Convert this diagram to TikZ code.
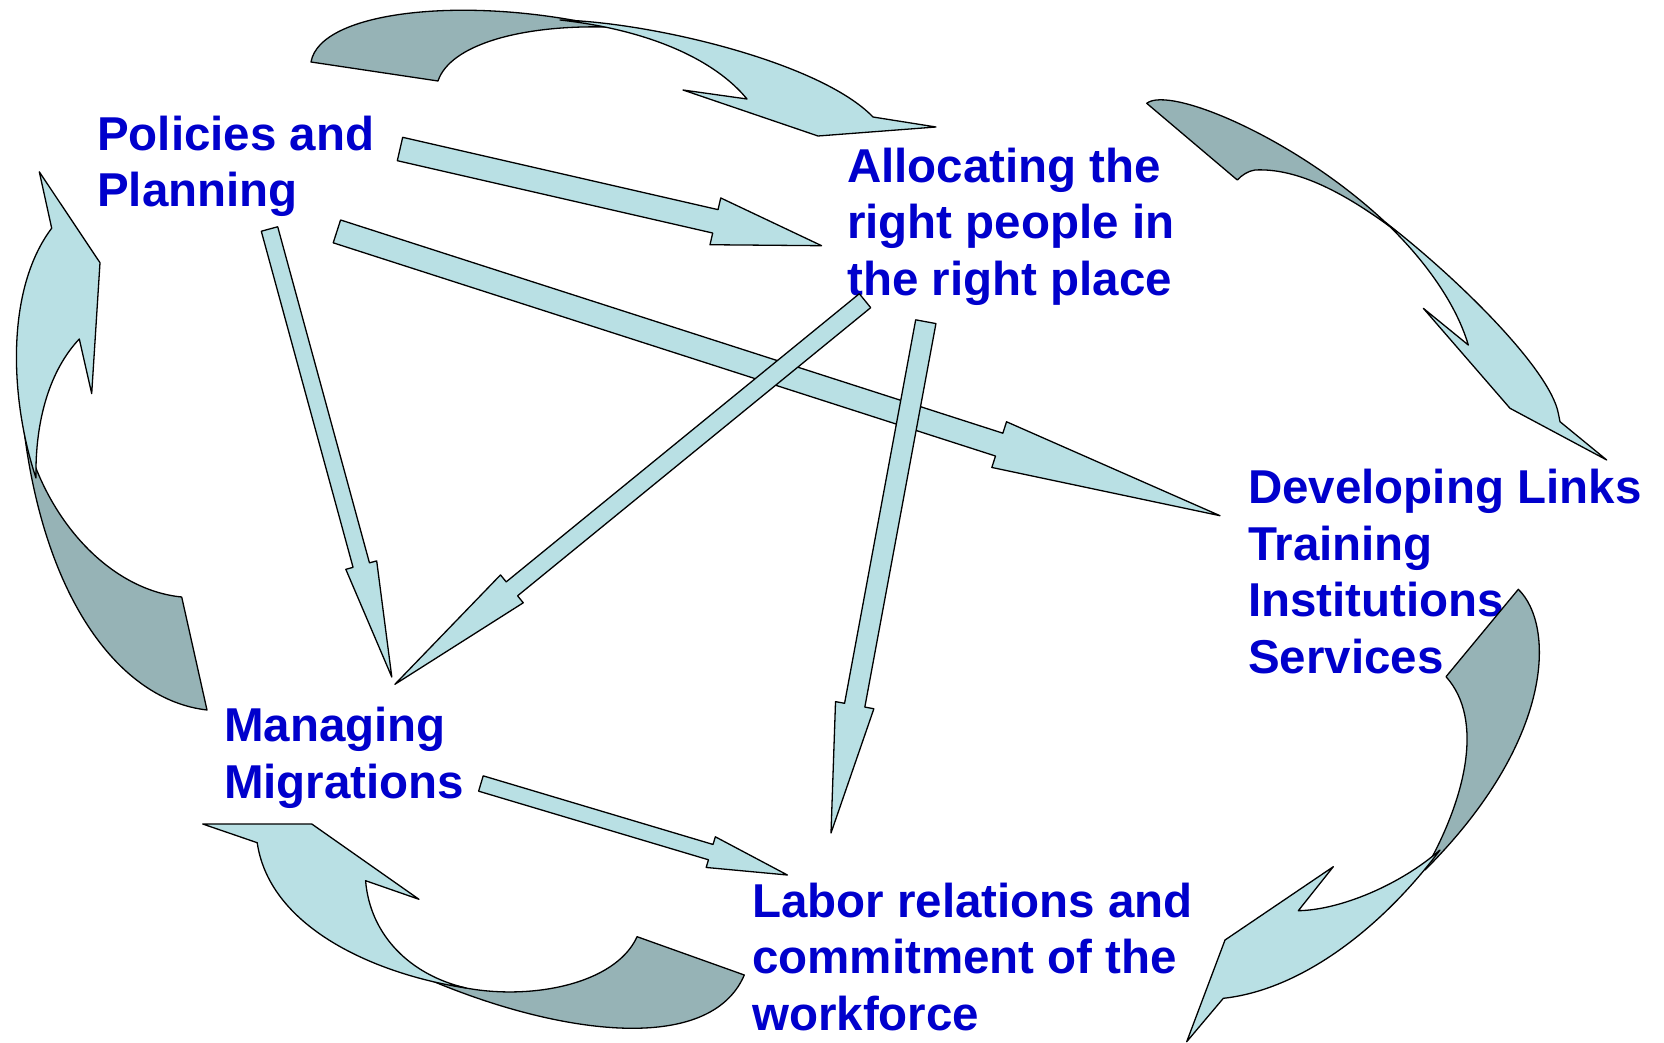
\documentclass[tikz,border=0pt]{standalone}
\usepackage{fontspec}
\setmainfont{Liberation Sans}
\usetikzlibrary{calc}

\definecolor{arrowlight}{RGB}{185,224,228}
\definecolor{arrowdark}{RGB}{150,179,182}
\definecolor{topicblue}{RGB}{0,0,204}

\tikzset{
  topic/.style={font=\fontsize{47.5}{56.5}\selectfont\bfseries, text=topicblue,
    align=left, inner sep=0pt, anchor=base west},
  flat/.style={fill=arrowlight, draw=black, line width=1.3pt, line join=round},
  twist/.style={fill=arrowdark, draw=black, line width=1.3pt, line join=round},
}

% straight block arrow: tail, tip, shaft half width, head half width, head length
\newcommand{\blockarrow}[5]{%
  \coordinate (hb) at ($(#2)!#5!(#1)$);
  \draw[flat] ($(#1)!#3!90:(#2)$) -- ($(hb)!#3!90:(#2)$) -- ($(hb)!#4!90:(#2)$) -- (#2)
    -- ($(hb)!#4!-90:(#2)$) -- ($(hb)!#3!-90:(#2)$) -- ($(#1)!#3!-90:(#2)$) -- cycle;
}

\begin{document}
\begin{tikzpicture}[x=1pt,y=-1pt]
  \useasboundingbox (0,0) rectangle (1664,1043);

  %% topics (placed at the baseline of their last line)
  \node[topic] (pol) at (97,207) {Policies and\\Planning};
  \node[topic] (alloc) at (847,295) {Allocating the\\right people in\\the right place};
  \node[topic] (dev) at (1248,673) {Developing Links\\Training\\Institutions,\\Services};
  \node[topic] (man) at (224,798) {Managing\\Migrations};
  \node[topic] (lab) at (752,1030) {Labor relations and\\commitment of the\\workforce};

  %% ends of the straight arrows
  \coordinate (pa-from) at (400,149);    \coordinate (pa-to) at (821.6,245.7);
  \coordinate (pd-from) at (336.9,231.4);\coordinate (pd-to) at (1220,515.7);
  \coordinate (pm-from) at (269.5,229);  \coordinate (pm-to) at (391.8,677);
  \coordinate (ml-from) at (480.9,783.5);\coordinate (ml-to) at (787.4,875);
  \coordinate (am-from) at (865,300.7);  \coordinate (am-to) at (394.9,684.3);
  \coordinate (al-from) at (925.8,321.7);\coordinate (al-to) at (831,833);

  %% straight arrows
  \blockarrow{pa-from}{pa-to}{12pt}{24pt}{109pt}
  \blockarrow{pd-from}{pd-to}{12pt}{24pt}{232pt}
  \blockarrow{pm-from}{pm-to}{8.5pt}{16pt}{116pt}
  \blockarrow{ml-from}{ml-to}{8pt}{16pt}{80pt}
  \blockarrow{am-from}{am-to}{9pt}{18pt}{151pt}
  \blockarrow{al-from}{al-to}{10.3pt}{19.5pt}{130pt}

  %% curved arrow over the top
  \draw[twist] (311,62) .. controls (320,10) and (470,-5) .. (606,27)
    .. controls (520,25) and (450,45) .. (438,81) -- cycle;
  \draw[flat] (560,20) .. controls (650,22) and (820,62) .. (873,117) -- (936,127)
    -- (818,136) -- (683,90) -- (747,99) .. controls (715,60) and (650,30) .. (560,20) -- cycle;

  %% curved arrow on the right, going down
  \draw[twist] (1146.7,103.3) .. controls (1170,85) and (1300,140) .. (1390,226.7)
    .. controls (1340,190) and (1295,168) .. (1255,170)
    .. controls (1248,171) and (1242,175) .. (1237.3,180) -- cycle;
  \draw[flat] (1385,222) .. controls (1460,280) and (1550,370) .. (1558.3,413.3)
    -- (1560,421.7) -- (1606.7,460) -- (1510,408.3) -- (1423.3,308.3) -- (1468.3,345)
    .. controls (1455,300) and (1420,255) .. (1385,222) -- cycle;

  %% curved arrow on the left, going up
  \draw[twist] (24,430) .. controls (45,600) and (120,700) .. (207,710) -- (181.7,597)
    .. controls (110,590) and (45,520) .. (24,430) -- cycle;
  \draw[flat] (39.3,171.8) -- (100,262.7) -- (91.7,393.6) -- (79.3,339)
    .. controls (50,370) and (35,420) .. (36,478)
    .. controls (10,400) and (5,290) .. (51.7,228.2) -- cycle;

  %% curved arrow at the bottom, going left
  \draw[twist] (430,980) .. controls (560,1035) and (710,1055) .. (744.3,975) -- (637.1,936.7)
    .. controls (615,985) and (530,1000) .. (466,988) -- cycle;
  \draw[flat] (202.7,824) -- (311.8,824) -- (419,899.3) -- (365.6,880.7)
    .. controls (370,935) and (410,975) .. (466,988)
    .. controls (380,975) and (270,930) .. (257.2,842.7) -- cycle;

  %% curved arrow at the bottom right
  \draw[twist] (1518.3,589.3) .. controls (1555,625) and (1555,740) .. (1425,870)
    .. controls (1465,800) and (1485,720) .. (1446,676.7) -- cycle;
  \draw[flat] (1440,850) .. controls (1380,930) and (1300,990) .. (1223.3,998.3)
    -- (1186.7,1041.7) -- (1225,940) -- (1333.3,866.7) -- (1298.3,910.7)
    .. controls (1340,910) and (1400,885) .. (1440,850) -- cycle;
\end{tikzpicture}
\end{document}
